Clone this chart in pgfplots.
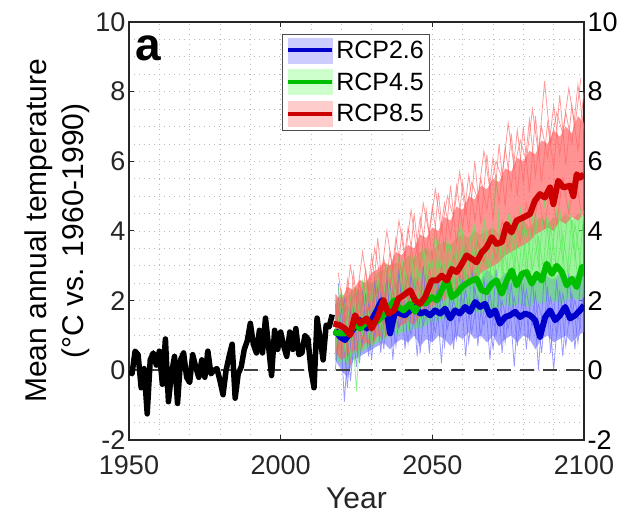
\documentclass[border=0pt]{standalone}
\usepackage{fontspec}
\setmainfont{Liberation Sans}
\usepackage{pgfplots}
\pgfplotsset{compat=1.18}
\usepackage{pgfplotstable}
\usepgfplotslibrary{fillbetween}

\definecolor{bmean}{RGB}{0,0,204}
\definecolor{gmean}{RGB}{0,190,0}
\definecolor{rmean}{RGB}{204,0,0}
\definecolor{bens}{RGB}{110,110,255}
\definecolor{gens}{RGB}{90,235,90}
\definecolor{rens}{RGB}{255,100,100}
\definecolor{bleg}{RGB}{204,204,255}
\definecolor{gleg}{RGB}{204,255,204}
\definecolor{rleg}{RGB}{255,204,204}
\definecolor{ticktext}{RGB}{38,38,38}

\pgfplotstableread{
year val
1950 0.0
1951 -0.1
1952 0.55
1953 0.45
1954 -0.5
1955 0.05
1956 -1.25
1957 0.3
1958 0.5
1959 0.15
1960 0.55
1961 -0.4
1962 0.9
1963 -0.9
1964 -0.1
1965 0.4
1966 -0.95
1967 0.3
1968 0.5
1969 -0.2
1970 -0.35
1971 0.45
1972 0.1
1973 -0.2
1974 0.3
1975 -0.2
1976 0.55
1977 -0.1
1978 0.0
1979 0.05
1980 -0.3
1981 -0.7
1982 0.0
1983 0.4
1984 0.75
1985 -0.8
1986 -0.1
1987 0.1
1988 0.6
1989 0.85
1990 1.35
1991 0.75
1992 0.5
1993 1.15
1994 0.5
1995 1.5
1996 0.7
1997 -0.15
1998 1.15
1999 0.6
2000 1.1
2001 0.7
2002 0.4
2003 1.1
2004 0.6
2005 1.2
2006 0.45
2007 0.5
2008 1.0
2009 0.9
2010 0.0
2011 -0.5
2012 1.5
2013 0.9
2014 0.3
2015 1.3
2016 1.25
2017 1.6
}\hist

\pgfplotstableread{
year b2 up lo
2018 0.0 1.9 0.3
2020 1.8 2.1 0.0
2022 -0.5 1.8 -0.2
2024 1.9 2.2 0.3
2026 0.2 2.3 0.4
2028 2.2 2.1 0.5
2030 0.3 2.5 0.6
2032 2.4 2.6 0.7
2034 0.6 2.4 0.8
2036 2.5 2.7 0.6
2038 0.7 2.5 0.8
2040 2.3 2.8 0.9
2042 0.8 2.6 0.8
2044 2.6 2.7 1.0
2046 0.5 2.5 0.7
2048 2.4 2.8 0.9
2050 0.9 2.6 0.8
2052 2.5 2.7 1.0
2054 0.7 2.6 0.9
2056 2.3 2.8 0.7
2058 0.9 2.6 1.0
2060 2.6 2.9 0.9
2062 0.8 2.7 1.1
2064 2.4 2.8 0.9
2066 1.0 2.6 1.0
2068 2.5 2.9 0.8
2070 0.6 2.7 1.0
2072 2.3 2.6 0.7
2074 0.8 2.8 0.9
2076 2.5 2.7 1.0
2078 0.7 2.6 0.8
2080 2.4 2.8 1.0
2082 0.9 2.7 0.9
2084 2.2 2.6 0.6
2086 0.5 2.8 0.9
2088 2.4 2.7 1.0
2090 0.0 2.6 0.8
2092 2.3 2.8 0.9
2094 0.7 2.7 1.0
2096 2.2 2.6 0.8
2098 0.8 2.8 1.0
2100 2.4 2.7 1.1
}\blueE

\pgfplotstableread{
year b1 b3
2019 2.5 1.0
2021 -0.9 2.0
2023 1.8 -0.3
2025 0.1 1.6
2027 2.3 0.8
2029 0.4 1.9
2031 2.6 1.0
2033 0.5 2.2
2035 2.7 1.1
2037 0.3 1.8
2039 2.9 1.2
2041 0.6 2.0
2043 2.8 1.0
2045 0.4 2.1
2047 3.0 1.3
2049 0.5 1.9
2051 2.7 1.1
2053 0.2 2.2
2055 2.9 1.2
2057 0.6 2.0
2059 2.8 1.4
2061 0.4 2.3
2063 3.0 1.1
2065 0.7 2.1
2067 2.7 1.3
2069 0.3 2.2
2071 2.9 1.0
2073 0.5 2.0
2075 2.6 1.2
2077 0.1 2.1
2079 2.8 1.1
2081 0.6 2.3
2083 2.7 1.3
2085 0.0 1.9
2087 2.9 1.2
2089 0.5 2.1
2091 2.6 1.0
2093 0.4 2.2
2095 2.8 1.3
2097 0.6 2.0
2099 2.7 1.2
}\blueO

\pgfplotstableread{
year g2 up lo
2018 0.5 2.0 0.3
2020 2.3 2.2 0.2
2022 0.0 2.1 0.3
2024 2.0 2.4 0.5
2026 0.4 2.3 0.5
2028 2.5 2.6 0.6
2030 0.6 2.5 0.7
2032 2.7 2.8 0.8
2034 0.8 2.9 0.9
2036 2.9 3.0 1.0
2038 1.1 3.1 1.0
2040 3.2 3.0 1.1
2042 1.2 3.3 1.1
2044 3.3 3.2 1.2
2046 1.4 3.4 1.2
2048 3.5 3.5 1.3
2050 1.5 3.4 1.4
2052 3.7 3.6 1.4
2054 1.7 3.7 1.5
2056 3.6 3.6 1.4
2058 1.8 3.8 1.6
2060 4.0 3.9 1.6
2062 1.9 3.8 1.7
2064 4.2 4.0 1.7
2066 2.0 3.9 1.6
2068 4.1 4.0 1.8
2070 2.1 4.1 1.7
2072 4.3 3.9 1.8
2074 2.2 4.2 1.9
2076 4.5 4.1 1.8
2078 2.1 4.2 1.9
2080 4.4 4.3 1.9
2082 2.3 4.1 1.8
2084 4.6 4.3 2.0
2086 2.2 4.4 1.9
2088 4.5 4.2 2.0
2090 2.4 4.4 2.0
2092 4.7 4.3 1.9
2094 2.3 4.5 2.0
2096 4.4 4.3 2.1
2098 2.5 4.5 2.0
2100 4.6 4.4 2.1
}\greenE

\pgfplotstableread{
year g1 g3
2019 2.4 1.2
2021 0.6 1.9
2023 2.1 0.4
2025 -0.6 2.2
2027 2.6 1.0
2029 0.9 2.4
2031 2.8 1.3
2033 1.2 2.0
2035 3.0 1.6
2037 1.4 2.6
2039 3.3 1.5
2041 1.6 2.9
2043 3.4 1.9
2045 1.7 3.0
2047 3.6 1.8
2049 2.0 3.2
2051 4.0 2.2
2053 2.1 3.1
2055 3.8 2.0
2057 2.3 3.4
2059 4.3 2.4
2061 2.4 3.6
2063 4.1 2.3
2065 2.5 3.5
2067 4.4 2.6
2069 2.6 3.8
2071 5.6 2.5
2073 2.7 3.7
2075 4.5 2.8
2077 2.8 3.9
2079 4.7 2.6
2081 2.8 4.0
2083 4.4 2.9
2085 3.0 3.8
2087 4.9 2.7
2089 3.0 4.1
2091 4.6 2.9
2093 3.1 3.9
2095 4.8 2.8
2097 3.2 4.2
2099 4.7 3.0
}\greenO

\pgfplotstableread{
year r3 r4 up lo
2018 1.9 1.0 2.2 0.5
2020 0.8 2.2 2.0 0.3
2022 2.6 0.7 2.4 0.4
2024 1.2 2.8 2.3 0.6
2026 2.5 1.4 2.6 0.5
2028 1.6 2.9 2.5 0.8
2030 3.3 1.6 2.8 0.7
2032 2.0 3.8 2.9 1.0
2034 3.2 1.9 3.1 0.9
2036 2.4 3.4 3.0 1.1
2038 3.8 2.3 3.4 1.2
2040 2.7 4.0 3.3 1.3
2042 4.1 2.5 3.6 1.4
2044 3.0 4.5 3.5 1.3
2046 4.4 2.9 3.9 1.6
2048 3.3 4.6 3.8 1.7
2050 4.7 3.2 4.1 1.8
2052 3.5 5.1 4.0 2.0
2054 4.8 3.4 4.4 2.0
2056 3.8 5.3 4.3 2.2
2058 5.3 3.6 4.7 2.3
2060 4.1 5.4 4.6 2.5
2062 5.6 4.0 5.0 2.6
2064 4.3 6.0 4.9 2.5
2066 5.5 4.2 5.3 2.8
2068 4.6 6.2 5.2 2.9
2070 6.1 4.3 5.5 3.0
2072 4.8 6.5 5.4 3.1
2074 6.4 4.7 5.8 3.3
2076 5.2 6.8 5.7 3.4
2078 6.9 5.0 6.1 3.5
2080 5.4 7.0 6.0 3.6
2082 7.2 5.1 6.3 3.7
2084 5.6 7.3 6.2 3.9
2086 7.0 5.4 6.6 4.0
2088 6.1 7.1 6.5 4.1
2090 7.6 5.8 6.9 4.0
2092 6.2 7.9 6.7 4.3
2094 7.4 5.9 7.0 4.2
2096 6.5 7.6 6.8 4.4
2098 8.2 6.3 7.3 4.3
2100 6.9 8.0 7.1 4.5
}\redE

\pgfplotstableread{
year r1 r2
2019 2.8 0.6
2021 1.5 1.3
2023 3.0 0.2
2025 2.0 1.4
2027 3.4 0.9
2029 2.2 1.8
2031 3.5 1.1
2033 2.6 2.0
2035 4.0 1.3
2037 2.9 2.3
2039 4.3 1.5
2041 3.2 2.4
2043 4.6 1.8
2045 3.3 2.6
2047 4.8 2.0
2049 3.9 2.9
2051 5.2 2.2
2053 4.0 3.0
2055 5.0 2.4
2057 4.4 3.3
2059 5.7 2.6
2061 4.5 3.6
2063 5.4 2.8
2065 4.9 3.7
2067 6.3 3.1
2069 5.2 4.0
2071 6.0 3.2
2073 5.5 4.3
2075 7.1 3.5
2077 5.8 4.4
2079 6.6 3.7
2081 6.0 4.8
2083 7.5 3.9
2085 6.2 5.0
2087 8.3 4.1
2089 6.5 5.3
2091 7.4 4.2
2093 6.8 5.5
2095 8.1 4.5
2097 7.0 5.6
2099 8.4 4.6
}\redO

\pgfplotstableread{
year val
2018.0 1.15
2019.6 0.96
2021.2 0.87
2022.9 1.06
2024.5 1.25
2026.2 1.44
2028.4 1.20
2030.0 1.44
2031.7 1.72
2033.3 2.01
2035.0 1.63
2036.1 1.06
2037.7 1.68
2039.4 1.63
2041.0 1.58
2042.7 1.72
2044.3 1.82
2046.0 1.63
2047.6 1.68
2049.3 1.58
2050.9 1.72
2052.6 1.63
2054.2 1.77
2055.9 1.49
2057.5 1.72
2059.1 1.63
2060.8 1.82
2062.4 1.68
2064.1 1.96
2065.7 1.82
2067.4 1.91
2069.0 1.58
2070.7 1.72
2072.3 1.34
2074.0 1.53
2075.6 1.58
2077.3 1.68
2078.9 1.53
2080.6 1.63
2082.2 1.58
2083.9 1.44
2085.5 0.96
2087.2 1.53
2088.8 1.72
2090.5 1.44
2092.1 1.58
2093.8 1.82
2095.4 1.49
2097.1 1.58
2098.7 1.72
2100.0 1.87
}\blueM

\pgfplotstableread{
year val
2017.4 1.10
2019.4 1.06
2021.2 1.06
2022.9 1.10
2024.5 1.34
2026.2 1.20
2028.4 1.39
2030.0 1.30
2032.2 1.44
2033.9 1.58
2035.5 1.77
2037.4 2.01
2038.8 1.82
2040.5 1.72
2042.7 1.91
2044.3 1.68
2046.0 1.96
2047.6 1.91
2049.8 2.10
2051.5 2.01
2053.1 2.30
2054.8 2.63
2056.4 2.10
2058.0 2.20
2059.7 2.39
2061.3 2.49
2063.0 2.58
2064.6 2.63
2066.3 2.30
2067.9 2.25
2069.6 2.49
2071.2 2.58
2072.9 2.20
2074.5 2.58
2076.2 2.87
2077.8 2.44
2079.5 2.77
2081.1 2.82
2082.8 2.49
2084.4 2.77
2086.1 2.58
2087.7 3.06
2089.4 2.77
2091.0 3.00
2092.7 2.82
2094.3 2.44
2096.0 2.63
2097.6 2.39
2099.3 2.96
2100.0 2.96
}\greenM

\pgfplotstableread{
year val
2017.4 1.34
2019.4 1.30
2021.2 1.20
2022.9 1.01
2024.5 1.58
2026.2 1.34
2028.4 1.49
2030.0 1.20
2032.2 1.58
2033.9 2.01
2035.5 1.63
2037.4 1.72
2038.8 2.06
2040.5 2.15
2042.7 2.30
2044.3 2.01
2046.0 1.91
2047.6 2.10
2049.8 2.58
2051.5 2.58
2053.1 2.72
2054.8 2.58
2056.4 2.91
2058.0 2.82
2059.1 2.96
2061.3 3.30
2063.0 3.20
2064.6 3.10
2066.3 3.39
2067.9 3.53
2069.6 3.82
2071.2 3.63
2072.9 3.68
2074.5 4.20
2076.1 3.96
2077.8 4.30
2080.0 4.39
2082.2 4.49
2083.8 4.87
2085.5 5.06
2087.1 4.96
2088.8 5.25
2089.9 4.77
2091.5 5.44
2093.2 5.25
2095.4 5.30
2096.5 5.00
2097.6 5.63
2098.7 5.53
2100.0 5.63
}\redM

\begin{document}
\begin{tikzpicture}
\begin{axis}[
  at={(129pt,82pt)}, anchor=south west,
  scale only axis, width=455pt, height=418pt,
  xmin=1950, xmax=2100, ymin=-2, ymax=10,
  xtick={1950,2000,2050,2100},
  ytick={-2,0,2,4,6,8,10},
  minor x tick num=4, minor y tick num=3,
  grid=both,
  major grid style={gray!55, line width=0.7pt, dash pattern=on 0.8pt off 4.2pt},
  minor grid style={gray!55, line width=0.7pt, dash pattern=on 0.8pt off 4.2pt},
  tick align=inside, major tick length=5pt, minor tick length=0pt,
  xtick pos=both, ytick pos=both, yticklabel pos=left,
  axis line style={line width=1.2pt, black!85},
  every tick/.style={black!85, line width=1pt},
  /pgf/number format/assume math mode=true,
  /pgf/number format/1000 sep={},
  tick label style={font=\fontsize{27}{27}\selectfont, text=ticktext},
  xticklabel style={yshift=-12pt},
  xlabel={Year},
  xlabel style={at={(axis description cs:0.5,-0.14)}, anchor=center,
                font=\fontsize{30}{30}\selectfont, text=ticktext},
  ylabel={Mean annual temperature\\(°C vs. 1960-1990)},
  ylabel style={at={(axis description cs:-0.158,0.5)}, anchor=center,
                align=center, font=\fontsize{30}{37}\selectfont},
  legend style={at={(axis description cs:0.336,0.971)}, anchor=north west,
                draw=black!70, line width=0.8pt, fill=white,
                font=\fontsize{25}{25}\selectfont,
                inner xsep=4pt, inner ysep=3pt, row sep=6pt,
                cells={anchor=west}},
  legend cell align=left,
]
\addlegendimage{legend image code/.code={
  \fill[bleg] (0pt,-12.5pt) rectangle (44pt,12.5pt);
  \draw[bmean, line width=4pt] (0pt,0pt) -- (44pt,0pt);}}
\addlegendentry{RCP2.6}
\addlegendimage{legend image code/.code={
  \fill[gleg] (0pt,-12.5pt) rectangle (44pt,12.5pt);
  \draw[gmean, line width=4pt] (0pt,0pt) -- (44pt,0pt);}}
\addlegendentry{RCP4.5}
\addlegendimage{legend image code/.code={
  \fill[rleg] (0pt,-12.5pt) rectangle (44pt,12.5pt);
  \draw[rmean, line width=4pt] (0pt,0pt) -- (44pt,0pt);}}
\addlegendentry{RCP8.5}

\addplot[name path=bU, draw=none, forget plot] table[x=year, y=up] {\blueE};
\addplot[name path=bL, draw=none, forget plot] table[x=year, y=lo] {\blueE};
\addplot[fill=bens, fill opacity=0.6, draw=none, forget plot] fill between[of=bU and bL];
\addplot[bens, line width=0.8pt, opacity=0.7, forget plot] table[x=year, y=b2] {\blueE};
\addplot[bens, line width=0.8pt, opacity=0.7, forget plot] table[x=year, y=b1] {\blueO};
\addplot[bens, line width=0.8pt, opacity=0.7, forget plot] table[x=year, y=b3] {\blueO};

\addplot[name path=gU, draw=none, forget plot] table[x=year, y=up] {\greenE};
\addplot[name path=gL, draw=none, forget plot] table[x=year, y=lo] {\greenE};
\addplot[fill=gens, fill opacity=0.6, draw=none, forget plot] fill between[of=gU and gL];
\addplot[gens, line width=0.8pt, opacity=0.7, forget plot] table[x=year, y=g2] {\greenE};
\addplot[gens, line width=0.8pt, opacity=0.7, forget plot] table[x=year, y=g1] {\greenO};
\addplot[gens, line width=0.8pt, opacity=0.7, forget plot] table[x=year, y=g3] {\greenO};

\addplot[name path=rU, draw=none, forget plot] table[x=year, y=up] {\redE};
\addplot[name path=rL, draw=none, forget plot] table[x=year, y=lo] {\redE};
\addplot[fill=rens, fill opacity=0.7, draw=none, forget plot] fill between[of=rU and rL];
\addplot[rens, line width=0.8pt, opacity=0.65, forget plot] table[x=year, y=r3] {\redE};
\addplot[rens, line width=0.8pt, opacity=0.65, forget plot] table[x=year, y=r4] {\redE};
\addplot[rens, line width=0.8pt, opacity=0.65, forget plot] table[x=year, y=r1] {\redO};
\addplot[rens, line width=0.8pt, opacity=0.65, forget plot] table[x=year, y=r2] {\redO};

\addplot[black!75, line width=2.2pt, dash pattern=on 14pt off 9pt, forget plot]
  coordinates {(1950,0) (2100,0)};

\addplot[black, line width=5.5pt, line join=round, forget plot] table[x=year, y=val] {\hist};

\addplot[bmean, line width=6pt, line join=round, forget plot] table[x=year, y=val] {\blueM};
\addplot[gmean, line width=6pt, line join=round, forget plot] table[x=year, y=val] {\greenM};
\addplot[rmean, line width=6pt, line join=round, forget plot] table[x=year, y=val] {\redM};

\node[anchor=base west, font=\fontsize{46}{46}\selectfont\bfseries, inner sep=0pt]
  at (axis description cs:0.013,0.909) {a};
\end{axis}

\begin{axis}[
  at={(129pt,82pt)}, anchor=south west,
  scale only axis, width=455pt, height=418pt,
  xmin=1950, xmax=2100, ymin=-2, ymax=10,
  hide x axis, axis y line*=right, axis line style={draw=none},
  ytick={-2,0,2,4,6,8,10}, major tick length=0pt,
  /pgf/number format/assume math mode=true,
  tick label style={font=\fontsize{27}{27}\selectfont, text=black},
]
\addplot[draw=none] coordinates {(1950,0) (2100,0)};
\end{axis}
\pgfresetboundingbox
\useasboundingbox (0,0) rectangle (629pt,522pt);
\end{tikzpicture}
\end{document}
